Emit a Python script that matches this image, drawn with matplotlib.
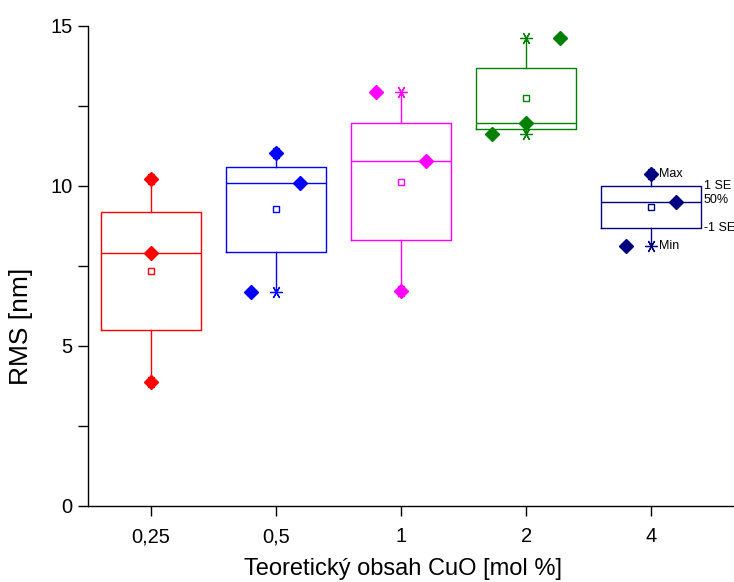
import matplotlib
matplotlib.use("Agg")
import matplotlib.pyplot as plt
import numpy as np

plt.rcParams['font.family'] = ['Liberation Sans', 'DejaVu Sans']

# teoreticky obsah CuO [mol %] and measured RMS roughness [nm]
categories = ['0,25', '0,5', '1', '2', '4']
rms_025 = [10.22, 7.90, 3.88]
rms_05 = [11.03, 10.10, 6.67]
rms_1 = [12.92, 10.76, 6.70]
rms_2 = [14.63, 11.95, 11.63]
rms_4 = [10.37, 9.48, 8.13]
# horizontal spread of the individual points inside each box
offsets_025 = [0.0, 0.0, 0.0]
offsets_05 = [0.0, 0.19, -0.2]
offsets_1 = [-0.2, 0.2, 0.0]
offsets_2 = [0.27, 0.0, -0.27]
offsets_4 = [0.0, 0.2, -0.2]

groups = [rms_025, rms_05, rms_1, rms_2, rms_4]
offsets = [offsets_025, offsets_05, offsets_1, offsets_2, offsets_4]
colors = ['#ff0000', '#0000ff', '#ff00ff', '#008000', '#000080']
positions = np.arange(1, len(groups) + 1)

fig = plt.figure(figsize=(7.34, 5.82), dpi=100)
ax = fig.add_axes([88 / 734, 76.3 / 582, (734 - 88) / 734, 480 / 582])

stats = []
for vals in groups:
    v = np.array(vals)
    mean = v.mean()
    se = v.std(ddof=1) / np.sqrt(len(v))
    stats.append(dict(med=np.median(v), q1=mean - se, q3=mean + se,
                      whislo=v.min(), whishi=v.max(), mean=mean))

star = (6, 2, 90)
for pos, st, vals, offs, col in zip(positions, stats, groups, offsets, colors):
    ax.bxp([st], positions=[pos], widths=0.8, showcaps=False, showmeans=True,
           showfliers=False,
           boxprops=dict(color=col, lw=1.0),
           whiskerprops=dict(color=col, lw=1.0),
           medianprops=dict(color=col, lw=1.0),
           meanprops=dict(marker='s', markersize=5, markerfacecolor='white',
                          markeredgecolor=col, markeredgewidth=1.0))
    ax.plot([pos, pos], [st['whislo'], st['whishi']], ls='none', marker=star,
            markersize=9, markeredgecolor=col, markeredgewidth=0.9, zorder=3)
    ax.plot(pos + np.array(offs), vals, ls='none', marker='D', markersize=7.5,
            color=col, zorder=4)

# labels for the last box (Origin style box legend)
st = stats[-1]
x0 = positions[-1]
lbl = dict(fontsize=9, ha='left', va='center')
ax.text(x0 + 0.06, st['whishi'], 'Max', **lbl)
ax.text(x0 + 0.06, st['whislo'], 'Min', **lbl)
ax.text(x0 + 0.42, st['q3'], '1 SE', **lbl)
ax.text(x0 + 0.42, st['med'] + 0.08, '50%', **lbl)
ax.text(x0 + 0.42, st['q1'], '-1 SE', **lbl)

ax.set_xlim(0.5, 5.66)
ax.set_ylim(0, 15)
ax.set_xticks(positions)
ax.set_xticklabels(categories)
ax.set_yticks([0, 5, 10, 15])
ax.set_yticks([2.5, 7.5, 12.5], minor=True)
ax.tick_params(axis='both', which='both', direction='out', length=7.5,
               width=1.0, labelsize=14.5)
ax.tick_params(axis='x', pad=8)

for side in ['top', 'right']:
    ax.spines[side].set_visible(False)
for side in ['left', 'bottom']:
    ax.spines[side].set_linewidth(1.0)

ax.set_ylabel('RMS [nm]', fontsize=19)
ax.set_xlabel('Teoretický obsah CuO [mol %]', fontsize=17)
ax.yaxis.set_label_coords(-0.085, 0.374)
ax.xaxis.set_label_coords(0.488, -0.11)

fig.savefig('out.png', dpi=100)
